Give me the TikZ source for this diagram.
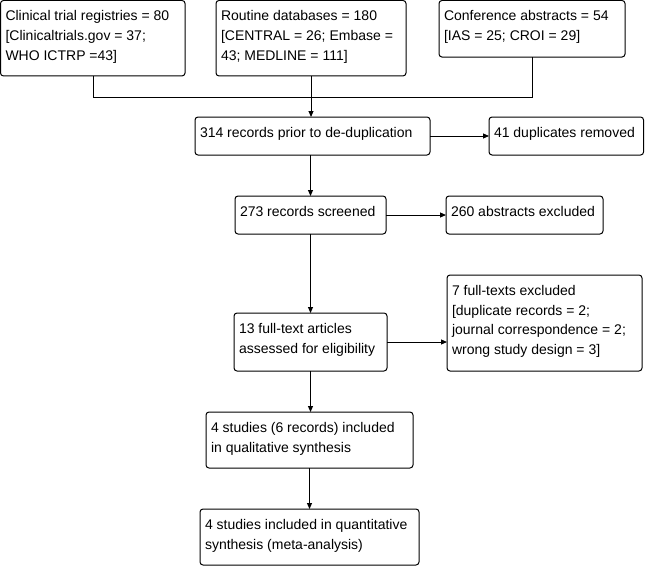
\documentclass[tikz,border=0pt]{standalone}
\usepackage{fontspec}
\setmainfont{Liberation Sans}
\usetikzlibrary{arrows.meta}
\newcommand\flowtext[1]{\begin{tabular}[t]{@{}l@{}}#1\end{tabular}}
\begin{document}
\begin{tikzpicture}[x=0.75pt,y=-0.75pt,
  box/.style={draw=black, line width=0.75pt, rounded corners=2.25pt, rectangle, inner sep=0pt, outer sep=0pt, anchor=north west},
  txt/.style={anchor=base west, inner sep=0pt, outer sep=0pt, font=\fontsize{10.5pt}{14.8pt}\selectfont},
  conn/.style={line width=0.75pt, draw=black},
  arr/.style={conn, -{Triangle[length=4.5pt,width=3.75pt]}}]
\useasboundingbox[fill=white] (0,0) rectangle (645,567);
% boxes
\node[box, minimum width=138.4pt, minimum height=56.6pt] (b1) at (0.5,0.5) {};
\node[box, minimum width=142.5pt, minimum height=56.6pt] (b2) at (216,0.5) {};
\node[box, minimum width=139.5pt, minimum height=42.4pt] (b3) at (439,0.5) {};
\node[box, minimum width=176.25pt, minimum height=28.5pt] (b314) at (195,117) {};
\node[box, minimum width=115.9pt, minimum height=28.5pt] (b41) at (489,117) {};
\node[box, minimum width=113.25pt, minimum height=28.5pt] (b273) at (235,196) {};
\node[box, minimum width=117.75pt, minimum height=28.5pt] (b260) at (446,196) {};
\node[box, minimum width=114.75pt, minimum height=43.5pt] (b13) at (234,313) {};
\node[box, minimum width=146.25pt, minimum height=72pt] (b7) at (447,275) {};
\node[box, minimum width=155.25pt, minimum height=42pt] (bq) at (206,412) {};
\node[box, minimum width=164.25pt, minimum height=42pt] (bm) at (200,509) {};
% texts
\node[txt] (t1) at (5.5,21) {\flowtext{Clinical trial registries = 80\\{[Clinicaltrials.gov = 37;}\\WHO ICTRP =43]}};
\node[txt] (t2) at (221,21) {\flowtext{Routine databases = 180\\{[CENTRAL = 26; Embase =}\\43; MEDLINE = 111]}};
\node[txt] (t3) at (444,21) {\flowtext{Conference abstracts = 54\\{[IAS = 25; CROI = 29]}}};
\node[txt] (t314) at (200,137.5) {\flowtext{314 records prior to de-duplication}};
\node[txt] (t41) at (494,137.5) {\flowtext{41 duplicates removed}};
\node[txt] (t273) at (240,216.5) {\flowtext{273 records screened}};
\node[txt] (t260) at (451,216.5) {\flowtext{260 abstracts excluded}};
\node[txt] (t13) at (239,333.5) {\flowtext{13 full-text articles\\assessed for eligibility}};
\node[txt] (t7) at (452,295.5) {\flowtext{7 full-texts excluded\\{[duplicate records = 2;}\\journal correspondence = 2;\\wrong study design = 3]}};
\node[txt] (tq) at (211,432.5) {\flowtext{4 studies (6 records) included\\in qualitative synthesis}};
\node[txt] (tm) at (205,529.5) {\flowtext{4 studies included in quantitative\\synthesis (meta-analysis)}};
% connectors
\coordinate (m1) at (93,97);
\coordinate (m3) at (532,97);
\draw[conn] (b1.south -| m1) -- (m1) -- (m3) -- (b3.south -| m3);
\draw[arr] (b2.south) -- (b2.south |- b314.north);
\draw[arr] (b314.east) -- (b314.east -| b41.west);
\draw[arr] (b273.north |- b314.south) -- (b273.north);
\draw[arr] (b273.east) -- (b273.east -| b260.west);
\draw[arr] (b273.south) -- (b273.south |- b13.north);
\draw[arr] (b13.east) -- (b13.east -| b7.west);
\draw[arr] (b13.south) -- (b13.south |- bq.north);
\draw[arr] (bq.south) -- (bq.south |- bm.north);
\end{tikzpicture}
\end{document}
